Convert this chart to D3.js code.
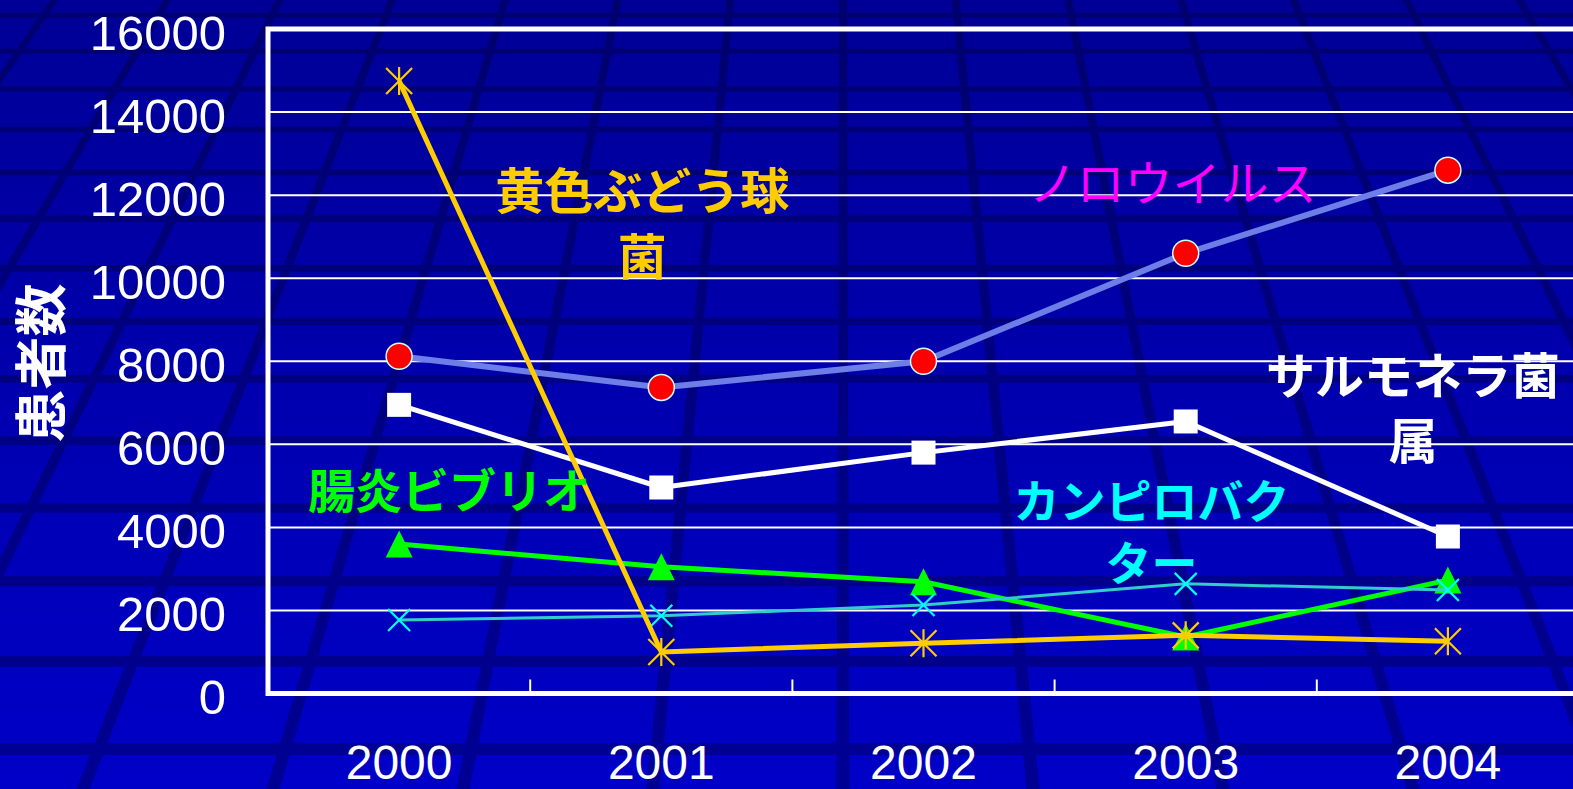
<!DOCTYPE html>
<html><head><meta charset="utf-8">
<script src="https://cdn.jsdelivr.net/npm/d3@7"></script>
<style>html,body{margin:0;padding:0;overflow:hidden;background:#0000b0}</style>
</head><body>
<svg id="chart" width="1573" height="789"></svg>
<script>
// ---- data ----
const years = ["2000", "2001", "2002", "2003", "2004"];
const norovirus     = [8120, 7370, 8000, 10600, 12600];
const salmonella    = [6950, 4960, 5800, 6550, 3780];
const vibrio        = [3600, 3050, 2690, 1360, 2730];
const campylobacter = [1770, 1870, 2130, 2640, 2490];
const staphAureus   = [14750, 1000, 1210, 1400, 1260];
const yTicks = [0, 2000, 4000, 6000, 8000, 10000, 12000, 14000, 16000];
const yTitle = "患者数";
const seriesNames = ["ノロウイルス", "サルモネラ菌属", "腸炎ビブリオ", "カンピロバクター", "黄色ぶどう球菌"];
const labelLines = [["ノロウイルス"], ["サルモネラ菌", "属"], ["腸炎ビブリオ"], ["カンピロバク", "ター"], ["黄色ぶどう球", "菌"]];

// ---- layout / style ----
const W = 1573, H = 789;
const plot = {left: 268, right: 1579, top: 29, bottom: 693.5};
const styles = [
  {line: "#6d7ee6", lw: 6, marker: "circle", fill: "#ff0000", stroke: "#ccffff", text: "#ff00ff", weight: 400, size: 48, gap: 64},
  {line: "#ffffff", lw: 5, marker: "square", fill: "#ffffff", stroke: "none", text: "#ffffff", weight: 700, size: 49, gap: 65},
  {line: "#00ff00", lw: 5, marker: "triangle", fill: "#00ff00", stroke: "none", text: "#00ff00", weight: 700, size: 47, gap: 64},
  {line: "#33cccc", lw: 3, marker: "x", fill: "none", stroke: "#00ffff", text: "#00ffff", weight: 700, size: 46, gap: 62},
  {line: "#ffcc00", lw: 5, marker: "star", fill: "none", stroke: "#ffcc00", text: "#ffcc00", weight: 700, size: 49, gap: 66}
];
// label anchors in data space: fractional category index, value of first line
const labelAnchors = [
  {i: 2.95, v: 12360}, {i: 3.867, v: 7740}, {i: 0.19, v: 4970}, {i: 2.87, v: 4707}, {i: 0.927, v: 12190}
];
const seriesValues = [norovirus, salmonella, vibrio, campylobacter, staphAureus];

const svg = d3.select("#chart");
const defs = svg.append("defs");
const grad = defs.append("linearGradient").attr("id", "bg").attr("x1", 0).attr("y1", 0).attr("x2", 0).attr("y2", 1);
grad.append("stop").attr("offset", "0%").attr("stop-color", "#000096");
grad.append("stop").attr("offset", "100%").attr("stop-color", "#0000c8");
svg.append("rect").attr("width", W).attr("height", H).attr("fill", "url(#bg)");

// decorative perspective floor grid
const vx = 843, vy = -1150;
const deco = svg.append("g").attr("fill", "#000000").attr("opacity", 0.26);
const radial = d3.range(-12, 13);
deco.selectAll("path.rad").data(radial).join("path")
  .attr("d", m => {
    const cx = vx + m * 190, hw = 6.5;
    return `M${vx},${vy} L${cx - hw},${H} L${cx + hw},${H} Z`;
  });
const rows = d3.range(-1, 15).map(n => vy + 1 / (5.266e-4 + n * 2.55e-5));
deco.selectAll("rect.row").data(rows).join("rect")
  .attr("x", 0).attr("width", W)
  .attr("y", d => d - 6 * Math.pow((d - vy) / 1899, 2))
  .attr("height", d => 12 * Math.pow((d - vy) / 1899, 2));

// scales
const x = d3.scaleBand().domain(years).range([plot.left, plot.right]).padding(0);
const y = d3.scaleLinear().domain([0, 16000]).range([plot.bottom, plot.top]);
const xi = i => plot.left + (i + 0.5) * x.step();

// gridlines
svg.append("g").selectAll("line").data(yTicks.filter(d => d > 0 && d < 16000)).join("line")
  .attr("x1", plot.left).attr("x2", plot.right)
  .attr("y1", d => y(d)).attr("y2", d => y(d))
  .attr("stroke", "#ffffff").attr("stroke-width", 2);

// frame
svg.append("path")
  .attr("d", `M${plot.right},${y(16000)} L${plot.left},${y(16000)} L${plot.left},${y(0)} L${plot.right},${y(0)}`)
  .attr("fill", "none").attr("stroke", "#ffffff").attr("stroke-width", 5);

// category ticks (between categories, pointing inward)
svg.append("g").selectAll("line").data(years.slice(1)).join("line")
  .attr("x1", d => x(d)).attr("x2", d => x(d))
  .attr("y1", y(0)).attr("y2", y(0) - 14)
  .attr("stroke", "#ffffff").attr("stroke-width", 2);

// y axis labels
const yAxis = svg.append("g").attr("transform", `translate(${plot.left},0)`)
  .call(d3.axisLeft(y).tickValues(yTicks).tickSize(0).tickPadding(42).tickFormat(d3.format("d")));
yAxis.select(".domain").remove();
yAxis.selectAll("text").attr("dy", null).attr("y", 20)
  .attr("fill", "#ffffff").style("font-family", "'Liberation Sans', Arial, sans-serif").style("font-size", "49px");

// x axis labels
const xAxis = svg.append("g").attr("transform", `translate(0,${y(0)})`)
  .call(d3.axisBottom(x).tickSize(0).tickPadding(0));
xAxis.select(".domain").remove();
xAxis.selectAll("text").attr("dy", null).attr("y", 85)
  .attr("fill", "#ffffff").style("font-family", "'Liberation Sans', Arial, sans-serif").style("font-size", "48px");

// y title
svg.append("text").attr("transform", "translate(38,363) rotate(-90)")
  .attr("text-anchor", "middle").attr("dominant-baseline", "central")
  .attr("fill", "#ffffff").style("font-family", "'Noto Sans CJK JP', sans-serif")
  .style("font-size", "53px").style("font-weight", 700).text(yTitle);

// series
const line = d3.line().x((d, i) => x(years[i]) + x.bandwidth() / 2).y(d => y(d));
const sym = {
  circle: "M13,0A13,13 0 1 1 -13,0A13,13 0 1 1 13,0Z",
  square: "M-12,-12H12V12H-12Z",
  triangle: "M0,-13.5L13.5,13.5L-13.5,13.5Z",
  x: "M-11,-11L11,11M11,-11L-11,11",
  star: "M-13,-13L13,13M13,-13L-13,13M0,-14V14"
};
seriesValues.forEach((vals, s) => {
  const st = styles[s];
  const g = svg.append("g").attr("class", "series").attr("data-name", seriesNames[s]);
  g.append("path").datum(vals).attr("d", line).attr("fill", "none")
    .attr("stroke", st.line).attr("stroke-width", st.lw).attr("stroke-linejoin", "round");
  g.selectAll("path.m").data(vals).join("path").attr("class", "m")
    .attr("transform", (d, i) => `translate(${x(years[i]) + x.bandwidth() / 2},${y(d)})`)
    .attr("d", sym[st.marker])
    .attr("fill", st.fill)
    .attr("stroke", st.stroke)
    .attr("stroke-width", st.marker === "circle" ? 1.5 : 2.2);
});

// series labels (each line its own text element)
labelLines.forEach((lines, s) => {
  const a = labelAnchors[s], st = styles[s];
  lines.forEach((ln, k) => {
    svg.append("text").attr("text-anchor", "middle")
      .attr("x", xi(a.i)).attr("y", y(a.v) + k * st.gap)
      .attr("dominant-baseline", "central")
      .attr("fill", st.text).style("font-family", "'Noto Sans CJK JP', sans-serif")
      .style("font-size", st.size + "px").style("font-weight", st.weight)
      .text(ln);
  });
});
</script>
</body></html>
